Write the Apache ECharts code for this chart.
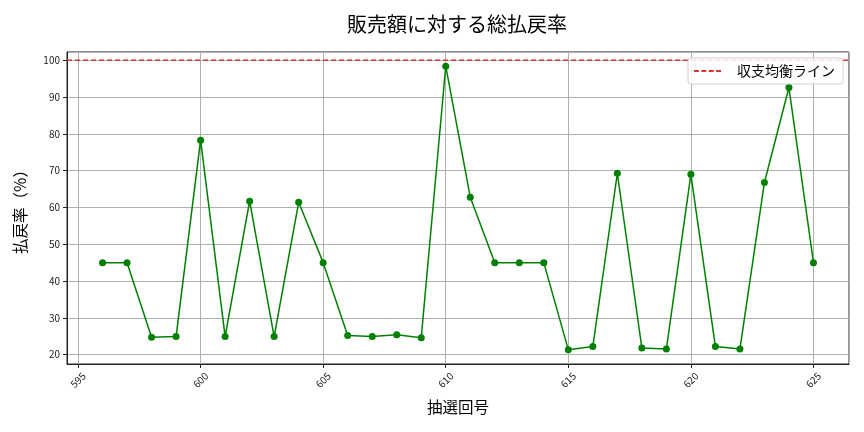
<!DOCTYPE html>
<html>
<head>
<meta charset="utf-8">
<script src="https://cdn.jsdelivr.net/npm/echarts@6/dist/echarts.min.js"></script>
<style>html,body{margin:0;padding:0;background:#fff;}#c{width:864px;height:432px;}</style>
</head>
<body>
<div id="c"></div>
<script>
// ---- data ----
const drawNumbers = [596,597,598,599,600,601,602,603,604,605,606,607,608,609,610,611,612,613,614,615,616,617,618,619,620,621,622,623,624,625];
const payoutRate = [45.0,45.0,24.7,24.9,78.3,24.9,61.7,24.9,61.4,45.0,25.2,24.9,25.4,24.6,98.4,62.8,45.0,45.0,45.0,21.3,22.2,69.3,21.8,21.5,69.0,22.2,21.5,66.8,92.6,45.0];
const breakEven = 100;
const xLimits = [594.55, 626.45];
const yLimits = [17.45, 102.26];
const titleText = '販売額に対する総払戻率';
const xName = '抽選回号';
const yName = '払戻率（%）';
const legendName = '収支均衡ライン';

const FONT = '"Noto Sans CJK JP", "Noto Sans", sans-serif';
const chart = echarts.init(document.getElementById('c'), null, {renderer: 'canvas'});
const gridColor = '#b0b0b0';
const dashIcon = 'path://M0,0h5v2h-5z M7.5,0h5v2h-5z M15,0h5v2h-5z M22.5,0h5v2h-5z';

chart.setOption({
  animation: false,
  backgroundColor: '#fff',
  title: {
    text: titleText,
    left: 452, top: 9, textAlign: 'center',
    textStyle: {fontFamily: FONT, fontSize: 20, fontWeight: 'normal', color: '#000'}
  },
  legend: {
    data: [{name: legendName, icon: dashIcon}],
    right: 21, top: 58,
    orient: 'vertical',
    backgroundColor: 'rgba(255,255,255,0.85)',
    borderColor: '#d0d0d0', borderWidth: 1, borderRadius: 3,
    padding: [6, 8, 6, 6],
    itemWidth: 27, itemHeight: 2, itemGap: 4,
    textStyle: {fontFamily: FONT, fontSize: 14, color: '#000', padding: [0, 0, 0, 11]}
  },
  grid: {left: 67, right: 15, top: 52, bottom: 68, show: true, borderColor: '#222', borderWidth: 1, containLabel: false},
  xAxis: {
    type: 'value', min: xLimits[0], max: xLimits[1], splitNumber: 6,
    name: xName, nameLocation: 'middle', nameGap: 35,
    nameTextStyle: {fontFamily: FONT, fontSize: 15.5, color: '#000'},
    axisLine: {show: true, onZero: false, lineStyle: {color: '#222', width: 1}},
    axisTick: {show: true, length: 4, lineStyle: {color: '#222'}},
    splitLine: {show: true, lineStyle: {color: gridColor, width: 1}},
    axisLabel: {
      rotate: 45, align: 'center', verticalAlign: 'middle', margin: 16,
      fontFamily: FONT, fontSize: 10, color: '#222',
      showMinLabel: false, showMaxLabel: false,
      formatter: v => (Math.abs(v - Math.round(v / 5) * 5) < 1e-6 ? String(Math.round(v)) : '')
    }
  },
  yAxis: {
    type: 'value', min: yLimits[0], max: yLimits[1], splitNumber: 8,
    name: yName, nameLocation: 'middle', nameGap: 39,
    nameTextStyle: {fontFamily: FONT, fontSize: 15.5, color: '#000'},
    axisLine: {show: true, onZero: false, lineStyle: {color: '#222', width: 1}},
    axisTick: {show: true, length: 4, lineStyle: {color: '#222'}},
    splitLine: {show: true, lineStyle: {color: gridColor, width: 1}},
    axisLabel: {
      margin: 7, fontFamily: FONT, fontSize: 10, color: '#222',
      showMinLabel: false, showMaxLabel: false,
      formatter: v => (Math.abs(v - Math.round(v / 10) * 10) < 1e-6 ? String(Math.round(v)) : '')
    }
  },
  series: [
    {
      name: '払戻率',
      type: 'line',
      data: drawNumbers.map((d, i) => [d, payoutRate[i]]),
      symbol: 'circle', symbolSize: 7,
      lineStyle: {color: '#008000', width: 1.5},
      itemStyle: {color: '#008000'},
      z: 3
    },
    {
      name: legendName,
      type: 'line',
      data: xLimits.map(x => [x, breakEven]),
      symbol: 'none',
      lineStyle: {color: '#dd3333', width: 1.5, type: [5, 3]},
      itemStyle: {color: '#dd3333'},
      z: 2
    }
  ]
});
</script>
</body>
</html>
